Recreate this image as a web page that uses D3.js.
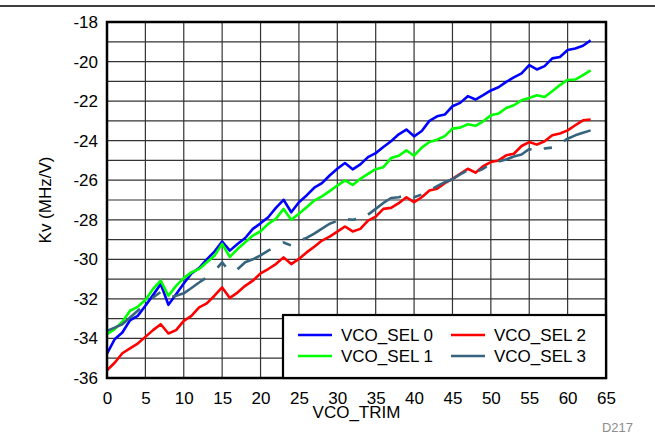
<!DOCTYPE html>
<html>
<head>
<meta charset="utf-8">
<script src="https://cdn.jsdelivr.net/npm/d3@7"></script>
<style>
  body { margin: 0; background: #fff; }
  svg { display: block; font-family: Arial, "Liberation Sans", sans-serif; }
</style>
</head>
<body>
<svg id="chart" width="655" height="434"></svg>
<script>
const vcoTrim = d3.range(0, 64);

const sel0 = [-34.77, -34.04, -33.7, -33.08, -32.86, -32.35, -31.81, -31.25, -32.3, -31.76,
  -31.22, -30.71, -30.44, -30.0, -29.61, -29.1, -29.56, -29.22, -28.92, -28.46,
  -28.18, -27.87, -27.4, -26.99, -27.62, -27.11, -26.77, -26.38, -26.15, -25.76,
  -25.42, -25.13, -25.45, -25.2, -24.83, -24.63, -24.32, -24.03, -23.68, -23.44,
  -23.78, -23.51, -23.0, -22.77, -22.68, -22.26, -22.09, -21.75, -21.92, -21.7,
  -21.46, -21.3, -21.03, -20.8, -20.6, -20.18, -20.4, -20.23, -19.84, -19.77,
  -19.42, -19.34, -19.2, -18.93];

const sel1 = [-33.79, -33.53, -33.15, -32.6, -32.4, -32.06, -31.5, -31.08, -31.84, -31.34,
  -30.95, -30.66, -30.49, -30.15, -29.82, -29.22, -29.88, -29.48, -29.14, -28.8,
  -28.58, -28.21, -27.95, -27.45, -28.0, -27.7, -27.37, -27.03, -26.82, -26.55,
  -26.27, -26.01, -26.24, -25.93, -25.68, -25.44, -25.34, -24.88, -24.76, -24.49,
  -24.76, -24.35, -24.07, -23.95, -23.77, -23.39, -23.34, -23.17, -23.25, -23.02,
  -22.72, -22.63, -22.35, -22.21, -21.96, -21.84, -21.7, -21.79, -21.5, -21.19,
  -20.93, -20.91, -20.69, -20.45];

const sel2 = [-35.61, -35.23, -34.75, -34.5, -34.26, -33.92, -33.58, -33.28, -33.75, -33.58,
  -33.11, -32.86, -32.43, -32.23, -31.84, -31.42, -31.95, -31.68, -31.34, -31.08,
  -30.71, -30.49, -30.24, -29.9, -30.24, -29.98, -29.65, -29.36, -29.05, -28.85,
  -28.6, -28.34, -28.59, -28.46, -28.04, -27.84, -27.45, -27.4, -27.16, -26.86,
  -27.11, -26.86, -26.52, -26.43, -26.15, -25.93, -25.68, -25.42, -25.62, -25.29,
  -25.08, -25.0, -24.74, -24.66, -24.27, -24.07, -24.2, -24.03, -23.73, -23.64,
  -23.48, -23.22, -22.97, -22.93];

const sel3 = [-33.62, -33.45, -33.28, -32.94, -32.6, -32.27, -31.93, -31.65, -31.95, -31.84,
  -31.72, -31.45, -31.17, -30.91, -30.6, -30.15, -30.65, -30.5, -30.15, -30.0,
  -29.8, -29.56, -29.35, -29.15, -29.3, -29.05, -28.92, -28.7, -28.45, -28.2,
  -28.05, -27.95, -28.0, -27.9, -27.74, -27.45, -27.15, -26.9, -26.86, -26.75,
  -26.86, -26.72, -26.52, -26.3, -26.1, -25.95, -25.7, -25.5, -25.6, -25.42,
  -25.15, -25.05, -24.95, -24.8, -24.7, -24.42, -24.55, -24.4, -24.35, -24.15,
  -23.9, -23.73, -23.6, -23.48];

const seriesNames = ['VCO_SEL 0', 'VCO_SEL 1', 'VCO_SEL 2', 'VCO_SEL 3'];
const seriesValues = [sel0, sel1, sel2, sel3];
const seriesColors = ['#0000ff', '#00ff00', '#ff0000', '#36647e'];

const xTicks = [0, 5, 10, 15, 20, 25, 30, 35, 40, 45, 50, 55, 60, 65];
const yTicks = [-36, -34, -32, -30, -28, -26, -24, -22, -20, -18];
const yGrid = d3.range(-35, -18);

// long dash / gap / short dash / gap, measured along VCO_TRIM
const dashPattern = [4.3, 1.6, 1.05, 1.55];

const svg = d3.select('#chart');
const margin = { top: 22, left: 107, right: 49, bottom: 56 };
const width = 655, height = 434;
const innerWidth = width - margin.left - margin.right;
const innerHeight = height - margin.top - margin.bottom;

const xScale = d3.scaleLinear().domain([0, 65]).range([0, innerWidth]);
const yScale = d3.scaleLinear().domain([-36, -18]).range([innerHeight, 0]);

// top rule
svg.append('line')
  .attr('x1', 0).attr('x2', width)
  .attr('y1', 6).attr('y2', 6)
  .attr('stroke', '#000').attr('stroke-width', 1.5);

const g = svg.append('g')
  .attr('transform', `translate(${margin.left}, ${margin.top})`);

// grid
g.append('g').selectAll('line')
  .data(xTicks.slice(1, -1))
  .enter().append('line')
    .attr('x1', d => xScale(d)).attr('x2', d => xScale(d))
    .attr('y1', 0).attr('y2', innerHeight)
    .attr('stroke', '#333').attr('stroke-width', 1.2);

g.append('g').selectAll('line')
  .data(yGrid)
  .enter().append('line')
    .attr('x1', 0).attr('x2', innerWidth)
    .attr('y1', d => yScale(d)).attr('y2', d => yScale(d))
    .attr('stroke', '#333').attr('stroke-width', 1.2);

// axes (labels only)
const xAxis = g.append('g')
  .attr('transform', `translate(0, ${innerHeight})`)
  .call(d3.axisBottom(xScale).tickValues(xTicks).tickSize(0).tickPadding(14));
const yAxis = g.append('g')
  .call(d3.axisLeft(yScale).tickValues(yTicks).tickSize(0).tickPadding(9));
[xAxis, yAxis].forEach(a => {
  a.select('.domain').remove();
  a.selectAll('text')
    .attr('font-family', 'Arial, "Liberation Sans", sans-serif')
    .attr('font-size', 17).attr('fill', '#000');
});
yAxis.selectAll('text').text(d => String(d));

// series
const line = d3.line()
  .x((d, i) => xScale(vcoTrim[i]))
  .y(d => yScale(d));

// turn a dash pattern given in VCO_TRIM units into path lengths
function dashesAlong(vals) {
  const pts = vals.map((v, i) => [xScale(vcoTrim[i]), yScale(v)]);
  const cum = [0];
  for (let i = 1; i < pts.length; i++) {
    cum.push(cum[i - 1] + Math.hypot(pts[i][0] - pts[i - 1][0], pts[i][1] - pts[i - 1][1]));
  }
  const lenAt = t => {
    const px = xScale(t);
    let i = d3.bisectRight(pts.map(p => p[0]), px) - 1;
    i = Math.max(0, Math.min(pts.length - 2, i));
    const f = (px - pts[i][0]) / (pts[i + 1][0] - pts[i][0]);
    return cum[i] + f * (cum[i + 1] - cum[i]);
  };
  const last = vcoTrim[vcoTrim.length - 1];
  const marks = [0];
  let t = vcoTrim[0], k = 0;
  while (t < last) {
    t = Math.min(last, t + dashPattern[k % 4]);
    marks.push(lenAt(t));
    k++;
  }
  const arr = [];
  for (let i = 1; i < marks.length; i++) arr.push((marks[i] - marks[i - 1]).toFixed(2));
  if (arr.length % 2) arr.push(50);
  return arr.join(',');
}

seriesValues.forEach((vals, k) => {
  const p = g.append('path')
    .datum(vals)
    .attr('fill', 'none')
    .attr('stroke', seriesColors[k])
    .attr('stroke-width', 2.6)
    .attr('stroke-linejoin', 'round')
    .attr('d', line);
  if (k === 3) p.attr('stroke-dasharray', dashesAlong(vals));
});

// frame
g.append('rect')
  .attr('width', innerWidth).attr('height', innerHeight)
  .attr('fill', 'none').attr('stroke', '#000').attr('stroke-width', 2.5);

// legend
const legend = g.append('g')
  .attr('transform', `translate(${innerWidth - 323}, ${innerHeight - 63})`);
legend.append('rect')
  .attr('width', 323).attr('height', 63)
  .attr('fill', '#fff').attr('stroke', '#000').attr('stroke-width', 2.2);
const items = legend.selectAll('g.item')
  .data(seriesNames)
  .enter().append('g')
    .attr('class', 'item')
    .attr('transform', (d, i) => `translate(${15 + Math.floor(i / 2) * 153}, ${20 + (i % 2) * 21})`);
items.append('line')
  .attr('x1', 0).attr('x2', 34)
  .attr('stroke', (d, i) => seriesColors[i])
  .attr('stroke-width', 2.6);
items.append('text')
  .attr('x', 43).attr('dy', '0.36em')
  .attr('font-size', 17)
  .text(d => d);

// titles
svg.append('text')
  .attr('x', margin.left + innerWidth / 2).attr('y', 418)
  .attr('text-anchor', 'middle').attr('font-size', 17)
  .text('VCO_TRIM');

svg.append('text')
  .attr('transform', `translate(51, ${margin.top + innerHeight / 2}) rotate(-90)`)
  .attr('text-anchor', 'middle').attr('font-size', 17)
  .text('Kv (MHz/V)');

svg.append('text')
  .attr('x', 633).attr('y', 432)
  .attr('text-anchor', 'end').attr('font-size', 13)
  .attr('fill', '#8c8c8c')
  .text('D217');
</script>
</body>
</html>
